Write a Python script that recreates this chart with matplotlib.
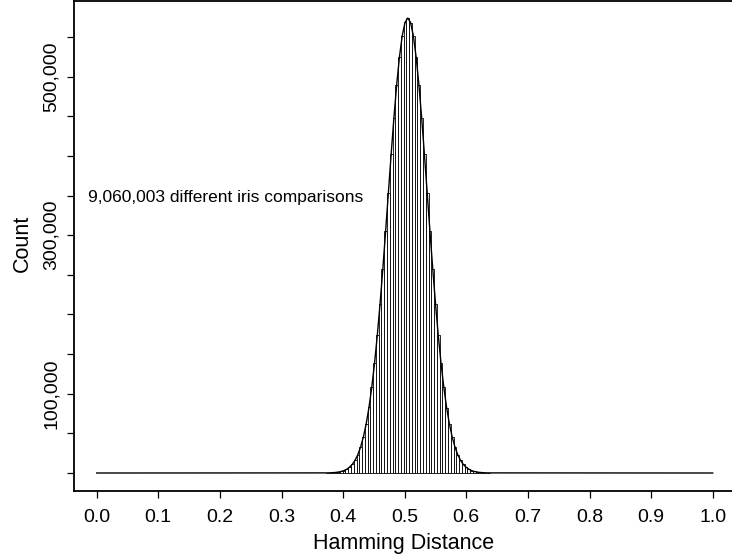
import numpy as np
import matplotlib
matplotlib.use("Agg")
import matplotlib.pyplot as plt

plt.rcParams["font.family"] = ["Liberation Sans", "DejaVu Sans"]

# histogram of Hamming distances
bin_start = 0.37225
bin_width = 0.0045
counts = [140, 250, 430, 720, 1190, 1930, 3070, 4790, 7330, 11000,
          16200, 23300, 33000, 45700, 62000, 82700, 108000, 138200, 173500, 213500,
          257700, 304900, 353600, 402100, 448300, 490000, 525100, 551700, 568400, 574000,
          568300, 551800, 525100, 490000, 448300, 402000, 353500, 304800, 257700, 213500,
          173500, 138200, 108000, 82600, 62000, 45700, 33000, 23300, 16200, 11000,
          7300, 4800, 3070, 1930, 1190, 720, 425, 250, 140]

x_ticks = [0.0, 0.1, 0.2, 0.3, 0.4, 0.5, 0.6, 0.7, 0.8, 0.9, 1.0]
y_ticks = [0, 50000, 100000, 150000, 200000, 250000, 300000,
           350000, 400000, 450000, 500000, 550000]
y_labeled = [100000, 300000, 500000]
note = "9,060,003 different iris comparisons"

lefts = bin_start + bin_width * np.arange(len(counts))
centers = lefts + bin_width / 2
curve_x = np.concatenate([[0.0], centers, [1.0]])
curve_y = np.concatenate([[0], counts, [0]])

fig = plt.figure(figsize=(7.32, 5.6), dpi=100)
ax = fig.add_axes([74 / 732, 69 / 560, 658 / 732, 490 / 560])

ax.bar(lefts, counts, width=bin_width, align="edge", color="white",
       edgecolor="black", linewidth=0.6)
ax.plot(curve_x, curve_y, color="black", linewidth=1.0)

ax.set_xlim(-0.03685, 1.0313)
ax.set_ylim(-22700, 595500)

ax.set_xticks(x_ticks)
ax.set_xticklabels([f"{t:.1f}" for t in x_ticks])
ax.set_yticks(y_ticks)
ax.set_yticklabels([f"{t:,}" if t in y_labeled else "" for t in y_ticks],
                   rotation=90, va="center")
ax.tick_params(axis="both", length=5, width=0.9, labelsize=14)
ax.tick_params(axis="x", pad=8)
ax.tick_params(axis="y", pad=5)

for side in ["left", "top", "bottom"]:
    ax.spines[side].set_linewidth(1.3)
ax.spines["right"].set_visible(False)

ax.text(-0.014, 348000, note, ha="left", va="center", fontsize=12.5)

fig.text(404 / 732, 1 - 544 / 560, "Hamming Distance", ha="center",
         va="center", fontsize=15.5)
fig.text(22 / 732, 1 - 243 / 560, "Count", ha="center", va="center",
         rotation=90, fontsize=15.5)

fig.savefig("out.png", dpi=100)
